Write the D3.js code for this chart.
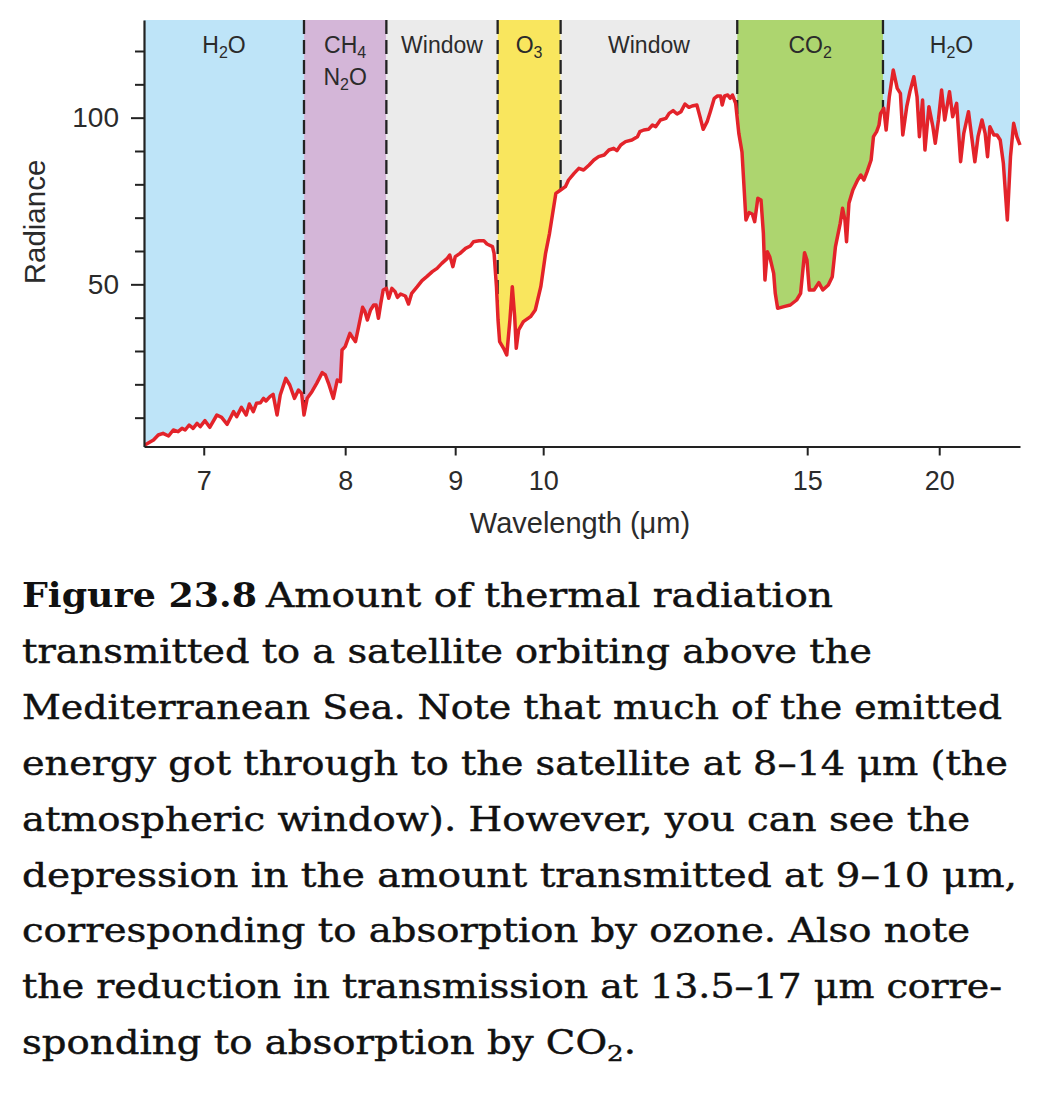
<!DOCTYPE html>
<html><head><meta charset="utf-8">
<script src="https://cdn.jsdelivr.net/npm/d3@7/dist/d3.min.js"></script>
<style>body{margin:0;background:#fff} svg{display:block}</style>
</head><body>
<svg id="chart" width="1044" height="1112"></svg>
<script>
// ---- DATA ----
// Spectrum sampled along the x axis, which is linear in wavenumber (cm^-1)
const wavenumber = [1503,1492,1486,1480,1473,1467,1461,1456,1452,1447,1442,1437,1433,1427,1421,1412,1406,1399,1391,1387,1381,1375,1371,1366,1362,1357,1353,1350,1345,1341,1336,1332,1325,1320,1314,1309,1305,1302,1298,1292,1286,1279,1275,1271,1265,1260,1256,1254,1250,1244,1240,1237,1233,1228,1225,1222,1218,1214,1211,1208,1205,1202,1198,1195,1191,1187,1184,1180,1174,1170,1166,1159,1153,1147,1140,1134,1128,1121,1118,1114,1111,1105,1098,1092,1088,1081,1075,1071,1064,1062,1059,1057,1055,1050,1046,1042,1039,1036,1034,1031,1025,1016,1010,1003,997,992,984,978,972,968,961,955,949,942,936,930,923,917,911,907,902,896,888,881,878,873,867,862,858,852,845,841,836,831,826,821,816,812,806,802,798,793,789,784,780,776,774,771,767,764,761,757,753,749,744,740,736,733,729,725,722,720,717,714,709,707,704,696,688,680,675,670,667,664,658,652,647,640,635,631,625,622,619,617,614,609,603,599,595,591,586,583,579,576,574,570,567,563,558,553,549,546,541,537,532,528,525,521,518,513,508,505,501,497,493,487,483,478,473,469,463,459,455,451,446,442,439,436,431,427,423,419,414,410,406,402,398];
const radiance = [1.8,3.3,4.8,5.3,4.5,6.3,5.8,6.8,6.3,7.8,6.8,8.3,7.3,9.1,7.1,10.8,10.1,8.0,11.8,10.3,13.1,10.8,14.1,11.8,14.3,14.5,15.8,15.0,16.3,17.0,10.8,16.8,21.8,19.8,15.8,18.3,17.3,10.8,15.8,17.8,20.3,23.5,22.8,20.3,15.8,21.3,20.8,30.3,31.3,35.3,33.8,32.8,37.3,43.1,41.8,39.3,42.3,43.8,43.8,39.8,44.3,48.3,48.8,45.8,48.8,47.8,46.1,47.1,46.5,44.1,47.3,49.3,51.1,52.3,53.8,54.8,56.3,57.8,58.8,55.3,58.3,59.3,60.8,61.5,62.8,63.1,63.1,62.1,61.3,59.3,49.3,39.3,32.8,30.8,28.8,39.3,49.3,40.3,30.8,36.3,38.8,40.3,42.3,49.3,59.3,65.3,77.3,78.3,79.3,81.3,83.3,84.8,84.3,85.8,87.3,88.3,88.8,90.3,90.8,90.1,91.8,92.8,93.3,94.3,95.8,96.3,96.5,97.8,97.3,99.3,99.8,101.3,102.1,101.1,101.8,104.1,103.1,103.5,103.8,100.3,96.5,98.8,101.8,105.8,106.5,106.5,103.8,106.5,106.8,105.8,106.8,104.3,95.3,89.7,69.3,71.5,71.1,68.8,75.8,75.3,65.3,51.3,59.8,58.3,53.3,47.3,42.8,43.3,43.8,45.3,47.3,59.5,57.3,48.3,48.3,50.5,48.3,49.8,52.3,61.3,68.3,72.8,69.3,62.8,74.3,78.3,81.3,82.8,81.3,83.8,87.3,94.3,95.8,97.8,101.3,102.8,96.3,106.3,114.3,108.8,107.3,94.8,103.3,107.8,112.3,106.3,94.3,105.3,90.3,103.3,97.3,92.3,99.3,108.3,99.3,107.8,100.3,104.3,86.8,95.3,101.8,94.3,86.8,94.3,99.3,95.3,88.3,97.3,94.8,94.8,93.3,86.3,69.3,88.3,98.3,94.3,91.8];

// Absorption bands (wavenumber limits, cm^-1)
const bandLabels = ["H_2O", "CH_4|N_2O", "Window", "O_3", "Window", "CO_2", "H_2O"];
const bandStart  = [1504, 1302, 1198, 1057.5, 978, 755, 571];
const bandEnd    = [1302, 1198, 1057.5, 978, 755, 571, 398];
const bandFill   = ["#bee4f8", "#d4b6d8", "#ebebeb", "#f9e65e", "#ebebeb", "#add56f", "#bee4f8"];

const xTickWavelengths = [7, 8, 9, 10, 15, 20];   // µm
const yMajorTicks = [50, 100];
const yMinorTicks = [10, 20, 30, 40, 60, 70, 80, 90, 110, 120];

const captionBold = "Figure 23.8";
const captionFirstRest = "Amount of thermal radiation";
const captionLines = [
  "transmitted to a satellite orbiting above the",
  "Mediterranean Sea. Note that much of the emitted",
  "energy got through to the satellite at 8–14 μm (the",
  "atmospheric window). However, you can see the",
  "depression in the amount transmitted at 9–10 μm,",
  "corresponding to absorption by ozone. Also note",
  "the reduction in transmission at 13.5–17 μm corre-",
  "sponding to absorption by CO_2."
];

// ---- LAYOUT ----
const svg = d3.select("#chart");
const plotL = 144, plotR = 1020, plotT = 20, plotB = 446.5;
const x = d3.scaleLinear().domain([1504, 398]).range([plotL, plotR]);
const y = d3.scaleLinear().domain([1.35, 129.3]).range([plotB, plotT]);
const sans = "'Liberation Sans', Arial, Helvetica, sans-serif";
const ink = "#2b2b2b";

const data = wavenumber.map((w, i) => ({w, r: radiance[i]}));

// bands
svg.append("g").selectAll("rect").data(bandLabels).join("rect")
  .attr("x", (d, i) => x(bandStart[i]))
  .attr("width", (d, i) => x(bandEnd[i]) - x(bandStart[i]))
  .attr("y", plotT).attr("height", plotB - plotT)
  .attr("fill", (d, i) => bandFill[i]);

// dashed boundaries
svg.append("g").selectAll("line").data(bandStart.slice(1)).join("line")
  .attr("x1", d => x(d)).attr("x2", d => x(d))
  .attr("y1", plotT).attr("y2", plotB)
  .attr("stroke", "#222").attr("stroke-width", 2.3).attr("stroke-dasharray", "14,6");

// white area below the spectrum
svg.append("path").datum(data)
  .attr("d", d3.area().x(d => x(d.w)).y0(plotB).y1(d => y(d.r)))
  .attr("fill", "#fff");

// spectrum line
svg.append("path").datum(data)
  .attr("d", d3.line().x(d => x(d.w)).y(d => y(d.r)))
  .attr("fill", "none").attr("stroke", "#e3232a").attr("stroke-width", 3.5)
  .attr("stroke-linejoin", "round");

// text with "_n" subscripts
function rich(textSel, str, subSize, shift, firstAttrs) {
  const parts = str.split(/(_\d)/).filter(s => s.length);
  let sub = false, first = true;
  parts.forEach(p => {
    let t;
    if (p[0] === "_") {
      t = textSel.append("tspan").attr("font-size", subSize).attr("dy", shift).text(p.slice(1));
      sub = true;
    } else {
      t = textSel.append("tspan").attr("dy", sub ? -shift : 0).text(p);
      sub = false;
    }
    if (first && firstAttrs) firstAttrs(t);
    first = false;
  });
}
bandLabels.forEach((lab, i) => {
  const cx = (x(bandStart[i]) + x(bandEnd[i])) / 2;
  const t = svg.append("text").attr("x", cx).attr("y", 53)
    .attr("text-anchor", "middle").attr("font-family", sans)
    .attr("font-size", 23).attr("fill", ink);
  lab.split("|").forEach((line, j) => {
    rich(t, line, 16, 5, j > 0 ? (ts => ts.attr("x", cx).attr("dy", 27)) : null);
  });
});

// axes
const xAxis = svg.append("g").attr("transform", `translate(0,${plotB})`)
  .call(d3.axisBottom(x).tickValues(xTickWavelengths.map(l => 1e4 / l))
    .tickFormat((d, i) => xTickWavelengths[i]).tickSize(9).tickSizeOuter(0));
xAxis.select(".domain").attr("stroke", "#222").attr("stroke-width", 2.2);
xAxis.selectAll(".tick line").attr("stroke", "#222").attr("stroke-width", 2);
xAxis.selectAll(".tick text").attr("y", 43.5).attr("dy", 0)
  .attr("font-family", sans).attr("font-size", 27).attr("fill", ink);

const yMinor = svg.append("g").attr("transform", `translate(${plotL},0)`)
  .call(d3.axisLeft(y).tickValues(yMinorTicks).tickSize(9).tickSizeOuter(0).tickFormat(""));
yMinor.select(".domain").remove();
yMinor.selectAll(".tick line").attr("stroke", "#222").attr("stroke-width", 2);

const yAxis = svg.append("g").attr("transform", `translate(${plotL},0)`)
  .call(d3.axisLeft(y).tickValues(yMajorTicks).tickSize(13).tickSizeOuter(0));
yAxis.select(".domain").attr("stroke", "#222").attr("stroke-width", 2.2);
yAxis.selectAll(".tick line").attr("stroke", "#222").attr("stroke-width", 2);
yAxis.selectAll(".tick text").attr("x", -25)
  .attr("font-family", sans).attr("font-size", 28).attr("fill", ink);

// axis titles
svg.append("text").attr("x", 580).attr("y", 533).attr("text-anchor", "middle")
  .attr("font-family", sans).attr("font-size", 29).attr("fill", ink)
  .text("Wavelength (μm)");
svg.append("text").attr("transform", "translate(45,222) rotate(-90)")
  .attr("text-anchor", "middle").attr("font-family", sans).attr("font-size", 29.5)
  .attr("fill", ink).text("Radiance");

// caption
const serif = "'DejaVu Serif', 'Liberation Serif', serif";
const capX = 22, capY0 = 607, capDy = 55.9, capSize = 34;
const capWidths = [850, 980, 986, 948, 995, 948, 980, 614];
svg.append("text").attr("x", capX).attr("y", capY0)
  .attr("font-family", serif).attr("font-weight", "bold").attr("font-size", capSize)
  .attr("fill", "#111").attr("textLength", 235).attr("lengthAdjust", "spacingAndGlyphs")
  .text(captionBold);
svg.append("text").attr("x", 266).attr("y", capY0)
  .attr("font-family", serif).attr("font-size", capSize).attr("fill", "#111")
  .attr("stroke", "#111").attr("stroke-width", 0.45)
  .attr("textLength", 567).attr("lengthAdjust", "spacingAndGlyphs")
  .text(captionFirstRest);
captionLines.forEach((line, i) => {
  const t = svg.append("text").attr("x", capX).attr("y", capY0 + (i + 1) * capDy)
    .attr("font-family", serif).attr("font-size", capSize).attr("fill", "#111")
    .attr("stroke", "#111").attr("stroke-width", 0.45)
    .attr("textLength", capWidths[i]).attr("lengthAdjust", "spacingAndGlyphs");
  rich(t, line, 23, 7, null);
});
</script>
</body></html>
